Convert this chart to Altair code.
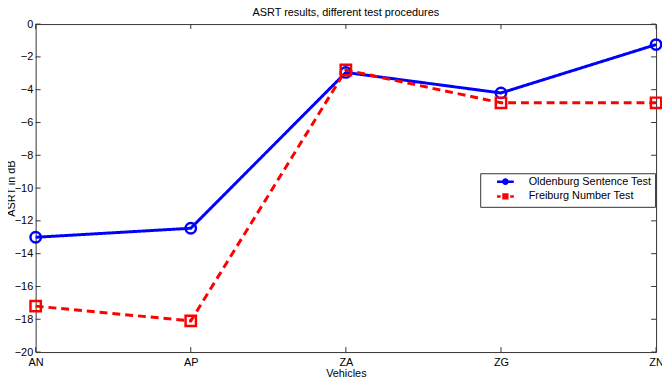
import altair as alt
import pandas as pd

vehicles = ["AN", "AP", "ZA", "ZG", "ZN"]
oldenburg = [-13.0, -12.45, -2.95, -4.2, -1.25]
freiburg = [-17.2, -18.1, -2.8, -4.8, -4.8]
series_names = ["Oldenburg Sentence Test", "Freiburg Number Test"]
yticks = [-20, -18, -16, -14, -12, -10, -8, -6, -4, -2, 0]

rows = []
for v, o, f in zip(vehicles, oldenburg, freiburg):
    rows.append({"vehicle": v, "asrt": o, "test": series_names[0]})
    rows.append({"vehicle": v, "asrt": f, "test": series_names[1]})
df = pd.DataFrame(rows)
ytick_df = pd.DataFrame({"asrt": yticks})
xtick_df = pd.DataFrame({"vehicle": vehicles})

W, H = 628, 332
font = "Liberation Sans"

# legend glyphs: line with marker
blue_glyph = "M-2.0,0 L-0.5,0 M0.5,0 L2.0,0 M-0.5,0 A0.5,0.5 0 1,1 0.5,0 A0.5,0.5 0 1,1 -0.5,0 M-0.5,0 L0.5,0"
red_glyph = "M-2.0,0 L-1.15,0 M1.15,0 L2.0,0 M-0.45,-0.45 L0.45,-0.45 L0.45,0.45 L-0.45,0.45 Z M-0.45,0 L0.45,0"

xscale = alt.Scale(type="point", padding=0, domain=vehicles)
yscale = alt.Scale(domain=[-20, 0], nice=False)
cscale = alt.Scale(domain=series_names, range=["#0000FF", "#FF0000"])

x_axis = alt.Axis(title="Vehicles", labelAngle=0, tickSize=0, domain=False, grid=False,
                  labelPadding=5, labelFont=font, titleFont=font,
                  labelFontSize=11, titleFontSize=11, titleFontWeight="normal",
                  titleY=25, titleBaseline="alphabetic",
                  labelColor="black", titleColor="black", labelOverlap=False)
y_axis = alt.Axis(title="ASRT in dB", values=yticks, tickSize=0, domain=False, grid=False,
                  labelPadding=3, labelFont=font, titleFont=font, labelOverlap=False,
                  labelFontSize=11, titleFontSize=11, titleFontWeight="normal",
                  titleX=-19, titleY=H / 2, titleBaseline="bottom",
                  labelColor="black", titleColor="black")
x_enc = alt.X("vehicle:N", scale=xscale, sort=vehicles, axis=x_axis)
y_enc = alt.Y("asrt:Q", scale=yscale, axis=y_axis)

dash = alt.StrokeDash("test:N", scale=alt.Scale(domain=series_names, range=[[1, 0], [8, 5]]), legend=None)

lines = alt.Chart(df).mark_line(strokeWidth=3).encode(
    x=x_enc, y=y_enc, color=alt.Color("test:N", scale=cscale, legend=None), strokeDash=dash)
points = alt.Chart(df).mark_point(filled=False, strokeWidth=2.5, size=110, opacity=1).encode(
    x=x_enc, y=y_enc,
    color=alt.Color("test:N", scale=cscale, legend=None),
    shape=alt.Shape("test:N", scale=alt.Scale(domain=series_names, range=["circle", "square"]), legend=None))

leg = alt.Legend(title=None, orient="none", legendX=450, legendY=151,
                 strokeColor="#333333", fillColor="white", padding=3,
                 labelFont=font, labelFontSize=11, labelColor="black",
                 symbolSize=72, symbolStrokeWidth=2.5, rowPadding=0,
                 symbolFillColor="white",
                 symbolOffset=17, labelOffset=18)
legend_layer = alt.Chart(df).transform_filter("false").mark_point(filled=False, strokeWidth=2.5, opacity=1).encode(
    x=x_enc, y=y_enc,
    color=alt.Color("test:N", scale=cscale, legend=leg),
    shape=alt.Shape("test:N", scale=alt.Scale(domain=series_names, range=[blue_glyph, red_glyph]), legend=leg))

tick_col = "#333333"
ly = alt.Chart(ytick_df).mark_rule(color=tick_col, strokeWidth=1).encode(
    y=y_enc, x=alt.value(0), x2=alt.value(5))
ry = alt.Chart(ytick_df).mark_rule(color=tick_col, strokeWidth=1).encode(
    y=y_enc, x=alt.value(W - 5), x2=alt.value(W))
bx = alt.Chart(xtick_df).mark_rule(color=tick_col, strokeWidth=1).encode(
    x=x_enc, y=alt.value(H - 5), y2=alt.value(H))
tx = alt.Chart(xtick_df).mark_rule(color=tick_col, strokeWidth=1).encode(
    x=x_enc, y=alt.value(0), y2=alt.value(5))

chart = alt.layer(lines, ly, ry, bx, tx, points, legend_layer).resolve_scale(
    shape="independent", color="independent"
).properties(
    width=W, height=H,
    title=alt.Title("ASRT results, different test procedures", font=font, fontSize=11,
                    fontWeight="normal", color="black", offset=0),
    autosize=alt.AutoSizeParams(type="none"),
    padding={"left": 28, "top": 14, "right": 6, "bottom": 26},
    background="white",
).configure_view(stroke="#333333", strokeWidth=1).configure_axis(labelOverlap=False)

chart.save("out.html", embed_options={"renderer": "svg", "actions": False})
